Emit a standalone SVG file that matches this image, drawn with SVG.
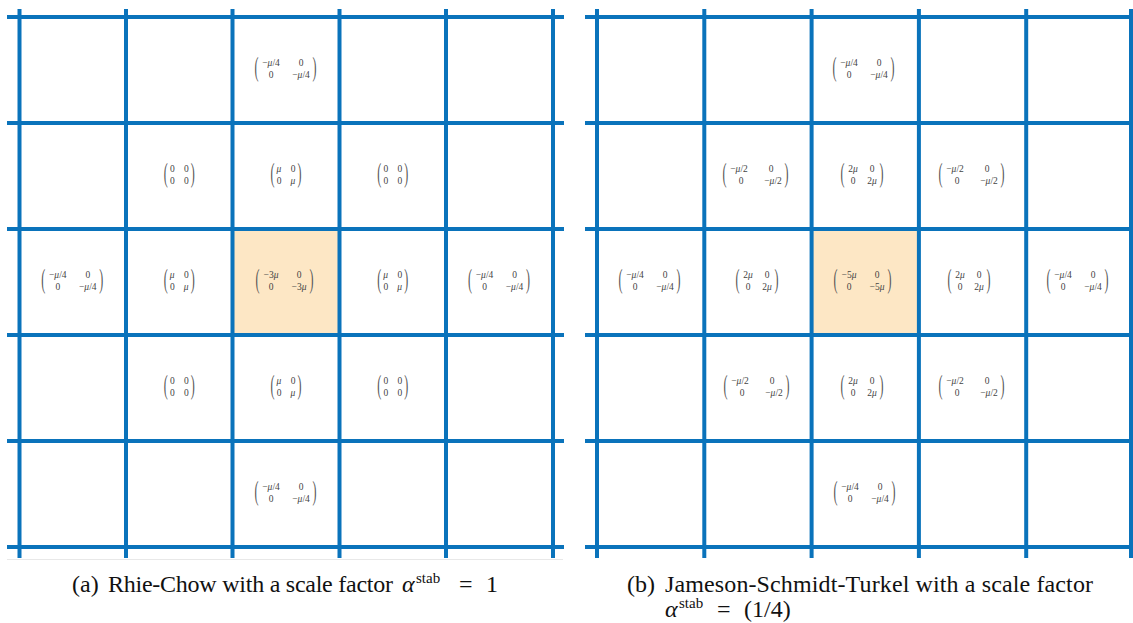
<svg xmlns="http://www.w3.org/2000/svg" width="1133" height="623" viewBox="0 0 1133 623">
<style>
.g{stroke:#0a73bb;stroke-width:4;fill:none}
.e{font-family:"Liberation Serif",serif;font-size:9.5px;fill:#444;text-anchor:middle}
.p{font-family:"Liberation Serif",serif;font-size:12px;fill:#555;text-anchor:middle}
.i{font-style:italic}
.cap{font-family:"Liberation Serif",serif;font-size:24px;fill:#111}
.sup{font-size:15px}
</style>
<rect width="1133" height="623" fill="#fff"/>
<rect x="232.5" y="229" width="107" height="106" fill="#fde7c5"/>
<rect x="811.6" y="229" width="107.3" height="106" fill="#fde7c5"/>
<line x1="7" y1="559.5" x2="563" y2="559.5" stroke="#e8e8e8" stroke-width="1"/>
<g id="connectors">
<g id="grid-a" class="g">
<line x1="7" y1="17" x2="564" y2="17"/><line x1="7" y1="123" x2="564" y2="123"/><line x1="7" y1="229" x2="564" y2="229"/><line x1="7" y1="335" x2="564" y2="335"/><line x1="7" y1="441" x2="564" y2="441"/><line x1="7" y1="547" x2="564" y2="547"/>
<line x1="19.5" y1="9" x2="19.5" y2="558"/><line x1="126" y1="9" x2="126" y2="558"/><line x1="232.5" y1="9" x2="232.5" y2="558"/><line x1="339.5" y1="9" x2="339.5" y2="558"/><line x1="446" y1="9" x2="446" y2="558"/><line x1="553" y1="9" x2="553" y2="558"/>
</g>
<g id="grid-b" class="g">
<line x1="585" y1="17" x2="1133" y2="17"/><line x1="585" y1="123" x2="1133" y2="123"/><line x1="585" y1="229" x2="1133" y2="229"/><line x1="585" y1="335" x2="1133" y2="335"/><line x1="585" y1="441" x2="1133" y2="441"/><line x1="585" y1="547" x2="1133" y2="547"/>
<line x1="597" y1="9" x2="597" y2="558"/><line x1="704.3" y1="9" x2="704.3" y2="558"/><line x1="811.6" y1="9" x2="811.6" y2="558"/><line x1="918.9" y1="9" x2="918.9" y2="558"/><line x1="1026.2" y1="9" x2="1026.2" y2="558"/><line x1="1131" y1="9" x2="1131" y2="558"/>
</g>
</g>

<!-- Panel (a) -->
<g id="a-r0c2" transform="translate(286,70)"><text class="p" transform="translate(-29.5,-0.5) scale(1,2.3)" y="2.85">(</text><text class="p" transform="translate(28.5,-0.5) scale(1,2.3)" y="2.85">)</text><text class="e" x="-15" y="-4">−<tspan class="i">μ</tspan>/4</text><text class="e" x="15" y="-4">0</text><text class="e" x="-15" y="7.5">0</text><text class="e" x="15" y="7.5">−<tspan class="i">μ</tspan>/4</text></g>
<g id="a-r1c1" transform="translate(179.25,176)"><text class="p" transform="translate(-13.5,-0.5) scale(1,2.3)" y="2.85">(</text><text class="p" transform="translate(13.5,-0.5) scale(1,2.3)" y="2.85">)</text><text class="e" x="-7" y="-4">0</text><text class="e" x="7" y="-4">0</text><text class="e" x="-7" y="7.5">0</text><text class="e" x="7" y="7.5">0</text></g>
<g id="a-r1c2" transform="translate(286,176)"><text class="p" transform="translate(-13.5,-0.5) scale(1,2.3)" y="2.85">(</text><text class="p" transform="translate(13.5,-0.5) scale(1,2.3)" y="2.85">)</text><text class="e i" x="-7" y="-4">μ</text><text class="e" x="7" y="-4">0</text><text class="e" x="-7" y="7.5">0</text><text class="e i" x="7" y="7.5">μ</text></g>
<g id="a-r1c3" transform="translate(392.75,176)"><text class="p" transform="translate(-13.5,-0.5) scale(1,2.3)" y="2.85">(</text><text class="p" transform="translate(13.5,-0.5) scale(1,2.3)" y="2.85">)</text><text class="e" x="-7" y="-4">0</text><text class="e" x="7" y="-4">0</text><text class="e" x="-7" y="7.5">0</text><text class="e" x="7" y="7.5">0</text></g>
<g id="a-r2c0" transform="translate(72.75,282)"><text class="p" transform="translate(-29.5,-0.5) scale(1,2.3)" y="2.85">(</text><text class="p" transform="translate(28.5,-0.5) scale(1,2.3)" y="2.85">)</text><text class="e" x="-15" y="-4">−<tspan class="i">μ</tspan>/4</text><text class="e" x="15" y="-4">0</text><text class="e" x="-15" y="7.5">0</text><text class="e" x="15" y="7.5">−<tspan class="i">μ</tspan>/4</text></g>
<g id="a-r2c1" transform="translate(179.25,282)"><text class="p" transform="translate(-13.5,-0.5) scale(1,2.3)" y="2.85">(</text><text class="p" transform="translate(13.5,-0.5) scale(1,2.3)" y="2.85">)</text><text class="e i" x="-7" y="-4">μ</text><text class="e" x="7" y="-4">0</text><text class="e" x="-7" y="7.5">0</text><text class="e i" x="7" y="7.5">μ</text></g>
<g id="a-r2c2" transform="translate(285,282)"><text class="p" transform="translate(-27.5,-0.5) scale(1,2.3)" y="2.85">(</text><text class="p" transform="translate(26.5,-0.5) scale(1,2.3)" y="2.85">)</text><text class="e" x="-14" y="-4">−3<tspan class="i">μ</tspan></text><text class="e" x="14" y="-4">0</text><text class="e" x="-14" y="7.5">0</text><text class="e" x="14" y="7.5">−3<tspan class="i">μ</tspan></text></g>
<g id="a-r2c3" transform="translate(392.75,282)"><text class="p" transform="translate(-13.5,-0.5) scale(1,2.3)" y="2.85">(</text><text class="p" transform="translate(13.5,-0.5) scale(1,2.3)" y="2.85">)</text><text class="e i" x="-7" y="-4">μ</text><text class="e" x="7" y="-4">0</text><text class="e" x="-7" y="7.5">0</text><text class="e i" x="7" y="7.5">μ</text></g>
<g id="a-r2c4" transform="translate(499.5,282)"><text class="p" transform="translate(-29.5,-0.5) scale(1,2.3)" y="2.85">(</text><text class="p" transform="translate(28.5,-0.5) scale(1,2.3)" y="2.85">)</text><text class="e" x="-15" y="-4">−<tspan class="i">μ</tspan>/4</text><text class="e" x="15" y="-4">0</text><text class="e" x="-15" y="7.5">0</text><text class="e" x="15" y="7.5">−<tspan class="i">μ</tspan>/4</text></g>
<g id="a-r3c1" transform="translate(179.25,388)"><text class="p" transform="translate(-13.5,-0.5) scale(1,2.3)" y="2.85">(</text><text class="p" transform="translate(13.5,-0.5) scale(1,2.3)" y="2.85">)</text><text class="e" x="-7" y="-4">0</text><text class="e" x="7" y="-4">0</text><text class="e" x="-7" y="7.5">0</text><text class="e" x="7" y="7.5">0</text></g>
<g id="a-r3c2" transform="translate(286,388)"><text class="p" transform="translate(-13.5,-0.5) scale(1,2.3)" y="2.85">(</text><text class="p" transform="translate(13.5,-0.5) scale(1,2.3)" y="2.85">)</text><text class="e i" x="-7" y="-4">μ</text><text class="e" x="7" y="-4">0</text><text class="e" x="-7" y="7.5">0</text><text class="e i" x="7" y="7.5">μ</text></g>
<g id="a-r3c3" transform="translate(392.75,388)"><text class="p" transform="translate(-13.5,-0.5) scale(1,2.3)" y="2.85">(</text><text class="p" transform="translate(13.5,-0.5) scale(1,2.3)" y="2.85">)</text><text class="e" x="-7" y="-4">0</text><text class="e" x="7" y="-4">0</text><text class="e" x="-7" y="7.5">0</text><text class="e" x="7" y="7.5">0</text></g>
<g id="a-r4c2" transform="translate(286,494)"><text class="p" transform="translate(-29.5,-0.5) scale(1,2.3)" y="2.85">(</text><text class="p" transform="translate(28.5,-0.5) scale(1,2.3)" y="2.85">)</text><text class="e" x="-15" y="-4">−<tspan class="i">μ</tspan>/4</text><text class="e" x="15" y="-4">0</text><text class="e" x="-15" y="7.5">0</text><text class="e" x="15" y="7.5">−<tspan class="i">μ</tspan>/4</text></g>

<!-- Panel (b) -->
<g id="b-r0c2" transform="translate(864,70)"><text class="p" transform="translate(-29.5,-0.5) scale(1,2.3)" y="2.85">(</text><text class="p" transform="translate(28.5,-0.5) scale(1,2.3)" y="2.85">)</text><text class="e" x="-15" y="-4">−<tspan class="i">μ</tspan>/4</text><text class="e" x="15" y="-4">0</text><text class="e" x="-15" y="7.5">0</text><text class="e" x="15" y="7.5">−<tspan class="i">μ</tspan>/4</text></g>
<g id="b-r1c1" transform="translate(756,176)"><text class="p" transform="translate(-31.5,-0.5) scale(1,2.3)" y="2.85">(</text><text class="p" transform="translate(30.5,-0.5) scale(1,2.3)" y="2.85">)</text><text class="e" x="-17" y="-4">−<tspan class="i">μ</tspan>/2</text><text class="e" x="15" y="-4">0</text><text class="e" x="-15" y="7.5">0</text><text class="e" x="17" y="7.5">−<tspan class="i">μ</tspan>/2</text></g>
<g id="b-r1c2" transform="translate(862,176)"><text class="p" transform="translate(-19.5,-0.5) scale(1,2.3)" y="2.85">(</text><text class="p" transform="translate(19.5,-0.5) scale(1,2.3)" y="2.85">)</text><text class="e" x="-9" y="-4">2<tspan class="i">μ</tspan></text><text class="e" x="10" y="-4">0</text><text class="e" x="-9" y="7.5">0</text><text class="e" x="10" y="7.5">2<tspan class="i">μ</tspan></text></g>
<g id="b-r1c3" transform="translate(972,176)"><text class="p" transform="translate(-31.5,-0.5) scale(1,2.3)" y="2.85">(</text><text class="p" transform="translate(30.5,-0.5) scale(1,2.3)" y="2.85">)</text><text class="e" x="-17" y="-4">−<tspan class="i">μ</tspan>/2</text><text class="e" x="15" y="-4">0</text><text class="e" x="-15" y="7.5">0</text><text class="e" x="17" y="7.5">−<tspan class="i">μ</tspan>/2</text></g>
<g id="b-r2c0" transform="translate(650,282)"><text class="p" transform="translate(-29.5,-0.5) scale(1,2.3)" y="2.85">(</text><text class="p" transform="translate(28.5,-0.5) scale(1,2.3)" y="2.85">)</text><text class="e" x="-15" y="-4">−<tspan class="i">μ</tspan>/4</text><text class="e" x="15" y="-4">0</text><text class="e" x="-15" y="7.5">0</text><text class="e" x="15" y="7.5">−<tspan class="i">μ</tspan>/4</text></g>
<g id="b-r2c1" transform="translate(757,282)"><text class="p" transform="translate(-19.5,-0.5) scale(1,2.3)" y="2.85">(</text><text class="p" transform="translate(19.5,-0.5) scale(1,2.3)" y="2.85">)</text><text class="e" x="-9" y="-4">2<tspan class="i">μ</tspan></text><text class="e" x="10" y="-4">0</text><text class="e" x="-9" y="7.5">0</text><text class="e" x="10" y="7.5">2<tspan class="i">μ</tspan></text></g>
<g id="b-r2c2" transform="translate(863,282)"><text class="p" transform="translate(-27.5,-0.5) scale(1,2.3)" y="2.85">(</text><text class="p" transform="translate(26.5,-0.5) scale(1,2.3)" y="2.85">)</text><text class="e" x="-14" y="-4">−5<tspan class="i">μ</tspan></text><text class="e" x="14" y="-4">0</text><text class="e" x="-14" y="7.5">0</text><text class="e" x="14" y="7.5">−5<tspan class="i">μ</tspan></text></g>
<g id="b-r2c3" transform="translate(969,282)"><text class="p" transform="translate(-19.5,-0.5) scale(1,2.3)" y="2.85">(</text><text class="p" transform="translate(19.5,-0.5) scale(1,2.3)" y="2.85">)</text><text class="e" x="-9" y="-4">2<tspan class="i">μ</tspan></text><text class="e" x="10" y="-4">0</text><text class="e" x="-9" y="7.5">0</text><text class="e" x="10" y="7.5">2<tspan class="i">μ</tspan></text></g>
<g id="b-r2c4" transform="translate(1078,282)"><text class="p" transform="translate(-29.5,-0.5) scale(1,2.3)" y="2.85">(</text><text class="p" transform="translate(28.5,-0.5) scale(1,2.3)" y="2.85">)</text><text class="e" x="-15" y="-4">−<tspan class="i">μ</tspan>/4</text><text class="e" x="15" y="-4">0</text><text class="e" x="-15" y="7.5">0</text><text class="e" x="15" y="7.5">−<tspan class="i">μ</tspan>/4</text></g>
<g id="b-r3c1" transform="translate(757,388)"><text class="p" transform="translate(-31.5,-0.5) scale(1,2.3)" y="2.85">(</text><text class="p" transform="translate(30.5,-0.5) scale(1,2.3)" y="2.85">)</text><text class="e" x="-17" y="-4">−<tspan class="i">μ</tspan>/2</text><text class="e" x="15" y="-4">0</text><text class="e" x="-15" y="7.5">0</text><text class="e" x="17" y="7.5">−<tspan class="i">μ</tspan>/2</text></g>
<g id="b-r3c2" transform="translate(862,388)"><text class="p" transform="translate(-19.5,-0.5) scale(1,2.3)" y="2.85">(</text><text class="p" transform="translate(19.5,-0.5) scale(1,2.3)" y="2.85">)</text><text class="e" x="-9" y="-4">2<tspan class="i">μ</tspan></text><text class="e" x="10" y="-4">0</text><text class="e" x="-9" y="7.5">0</text><text class="e" x="10" y="7.5">2<tspan class="i">μ</tspan></text></g>
<g id="b-r3c3" transform="translate(972,388)"><text class="p" transform="translate(-31.5,-0.5) scale(1,2.3)" y="2.85">(</text><text class="p" transform="translate(30.5,-0.5) scale(1,2.3)" y="2.85">)</text><text class="e" x="-17" y="-4">−<tspan class="i">μ</tspan>/2</text><text class="e" x="15" y="-4">0</text><text class="e" x="-15" y="7.5">0</text><text class="e" x="17" y="7.5">−<tspan class="i">μ</tspan>/2</text></g>
<g id="b-r4c2" transform="translate(865,494)"><text class="p" transform="translate(-29.5,-0.5) scale(1,2.3)" y="2.85">(</text><text class="p" transform="translate(28.5,-0.5) scale(1,2.3)" y="2.85">)</text><text class="e" x="-15" y="-4">−<tspan class="i">μ</tspan>/4</text><text class="e" x="15" y="-4">0</text><text class="e" x="-15" y="7.5">0</text><text class="e" x="15" y="7.5">−<tspan class="i">μ</tspan>/4</text></g>

<g id="caption-a">
<text class="cap" x="72" y="592">(a)</text>
<text class="cap" x="108" y="592" textLength="285" lengthAdjust="spacing">Rhie-Chow with a scale factor</text>
<text class="cap" y="592"><tspan x="402" class="i">α</tspan><tspan x="416" dy="-9" class="sup">stab</tspan><tspan x="459" dy="9">=</tspan><tspan x="486">1</tspan></text>
</g>
<g id="caption-b">
<text class="cap" x="627" y="592">(b)</text>
<text class="cap" x="665" y="592" textLength="428" lengthAdjust="spacing">Jameson-Schmidt-Turkel with a scale factor</text>
<text class="cap" y="617"><tspan x="665" class="i">α</tspan><tspan x="679" dy="-9" class="sup">stab</tspan><tspan x="717" dy="9">=</tspan><tspan x="744">(1/4)</tspan></text>
</g>
</svg>
